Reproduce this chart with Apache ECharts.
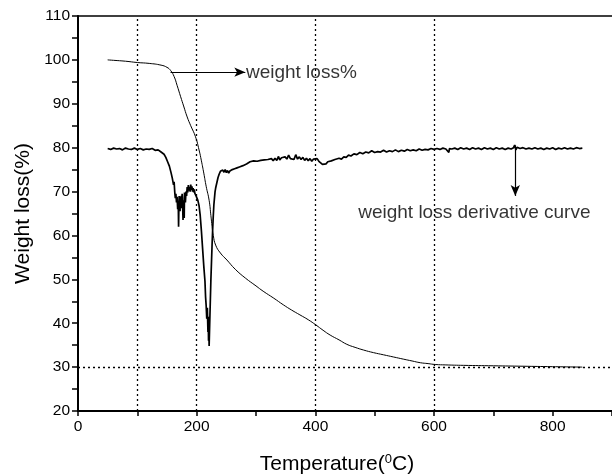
<!DOCTYPE html>
<html>
<head>
<meta charset="utf-8">
<script src="https://cdn.jsdelivr.net/npm/echarts@6/dist/echarts.min.js"></script>
<style>html,body{margin:0;padding:0;background:#fff}#c{width:612px;height:474px}</style>
</head>
<body>
<div id="c"></div>
<script>
// Weight loss % (TG) curve
var tgTemp = [50,60,80,100,120,140,150,156,162,167,173,178,184,190,198,204,208,212,216,221,224,226,228,232,240,251,265,282,300,312,330,346,360,374,388,401,413,425,440,453,467,481,498,515,532,549,563,577,590,602,620,650,700,750,800,850];
var tgVal  = [100.0,99.9,99.7,99.4,99.2,98.8,98.3,97.6,96.2,94.2,91.6,89.5,87.0,85.0,82.5,79.5,77.0,74.2,71.2,68.0,64.5,62.0,60.0,57.8,56.0,54.4,52.3,50.3,48.5,47.3,45.7,44.2,43.0,41.9,40.8,39.6,38.4,37.3,36.2,35.2,34.5,33.9,33.3,32.8,32.3,31.8,31.4,31.0,30.8,30.6,30.5,30.4,30.3,30.2,30.1,30.0];

// Weight loss derivative (DTG) curve
var dtgTemp = [50,55,60,65,70,75,80,85,90,95,100,105,110,115,120,125,130,135,140,145,148,151,154,157,159,161,162,163,164,165,166,167,168,169,169.5,170,170.5,171,172,172.5,173,174,175,175.5,176,177,177.5,178,179,179.5,180,181,182,183,184,185,186,187,188,189,190,191,192,193,194,195,196,197,198,199,200,202,204,206,208,210,212,214,215,216,217,218,219,219.5,220,220.5,221,222,223,224,225,226,227,228,229,230,231,232,234,236,238,240,242,244,246,248,250,252,254,256,258,260,262,264,266,268,270,272,275,278,281,284,287,290,293,296,299,302,305,308,311,314,317,320,323,326,329,332,335,338,340,343,346,349,352,355,358,361,364,367,370,373,376,379,382,385,388,391,394,397,400,403,406,409,412,415,418,421,424,427,430,433,436,440,444,448,452,456,460,465,470,475,480,485,490,495,500,505,510,515,520,525,530,535,540,545,550,555,560,565,570,575,580,585,590,595,600,605,610,615,620,625,626,630,635,640,645,650,655,660,665,670,675,680,685,690,695,700,705,710,715,720,725,730,734,736,738,740,745,750,755,760,765,770,775,780,785,790,795,800,805,810,815,820,825,830,835,840,845,850];
var dtgVal  = [79.8,79.6,79.9,79.7,79.8,79.5,79.9,79.7,79.6,79.9,79.6,79.8,79.5,79.7,79.6,79.8,79.4,79.5,79.0,78.5,77.8,76.8,75.8,74.2,73.0,71.5,72.2,70.0,68.5,69.5,67.5,68.8,66.0,67.2,62.0,66.5,69.0,68.0,65.5,68.8,67.8,69.0,66.2,69.5,68.5,63.5,67.0,68.0,64.0,69.8,69.2,67.5,70.0,69.0,71.0,69.8,71.5,70.2,71.0,70.0,71.6,70.4,71.2,70.0,70.8,69.8,70.5,69.6,70.0,69.0,68.8,68.0,66.8,64.5,61.0,57.0,53.0,49.5,46.0,44.0,41.0,43.5,38.0,41.5,36.0,39.5,34.8,40.0,45.0,50.0,54.0,58.0,61.5,64.5,67.0,68.5,70.0,70.8,72.0,73.2,74.0,74.6,74.2,74.9,74.4,75.0,74.3,74.8,74.2,74.7,74.4,75.0,74.6,75.2,74.8,75.4,75.0,75.6,75.3,75.9,75.6,76.3,76.0,76.8,76.4,77.0,76.6,76.9,76.5,77.1,76.7,77.2,76.8,77.3,76.9,77.5,77.0,77.6,77.1,78.0,77.2,77.7,77.3,77.9,77.4,78.3,77.5,77.8,77.3,78.4,77.4,77.9,77.3,77.8,77.1,77.6,77.0,77.5,76.9,77.4,77.0,77.5,76.9,76.6,76.2,76.6,76.3,76.8,76.5,77.0,76.8,77.3,77.1,77.6,77.4,77.9,77.8,78.3,78.1,78.6,78.4,78.9,78.6,79.0,78.8,79.3,78.9,79.1,79.0,79.4,79.0,79.3,79.1,79.5,79.1,79.4,79.2,79.6,79.3,79.5,79.3,79.7,79.4,79.6,79.5,79.8,79.6,79.8,79.6,79.9,79.7,78.9,79.8,79.7,79.9,79.6,80.0,79.7,79.9,79.6,80.0,79.7,79.9,79.6,80.0,79.7,79.9,79.6,80.0,79.7,79.9,79.6,79.9,79.7,80.0,80.6,79.5,80.1,79.8,80.0,79.7,79.9,79.7,80.0,79.7,79.9,79.6,79.9,79.7,80.0,79.6,79.9,79.7,80.0,79.7,79.9,79.7,80.0,79.8,79.9];

// Reference lines
var refX = [100,200,400,600];
var refY = [30];

// Annotations
var arrow1 = [[156,97.2],[282,97.2]];
var arrow2 = [[737,80.5],[737,69.0]];
var text1 = {x:283, y:97.0, text:'weight loss%'};
var text2 = {x:668, y:65.1, text:'weight loss derivative curve'};

function pairs(xs, ys){ var o=[]; for(var i=0;i<xs.length;i++) o.push([xs[i],ys[i]]); return o; }

var FONT = 'Liberation Sans, Arial, sans-serif';
var chart = echarts.init(document.getElementById('c'), null, {renderer:'canvas'});
var markData = refX.map(function(v){return {xAxis:v};}).concat(refY.map(function(v){return {yAxis:v};}));

chart.setOption({
  animation:false,
  backgroundColor:'#fff',
  grid:{left:78, top:16, right:0, bottom:63, containLabel:false, outerBoundsMode:'none'},
  xAxis:[{
    type:'value', min:0, max:900, interval:100,
    name:'{a|Temperature(}{s|0}{a|C)}', nameLocation:'middle', nameGap:42,
    nameTextStyle:{padding:[0,16,0,0],rich:{a:{fontSize:21,fontFamily:FONT,color:'#000'}, s:{fontSize:13,fontFamily:FONT,color:'#000',verticalAlign:'top',padding:[0,0,10,0]}}},
    axisLine:{show:true,onZero:false,lineStyle:{color:'#000',width:2}},
    axisTick:{show:true,inside:false,length:5,lineStyle:{color:'#000',width:1.5}},
    axisLabel:{fontSize:15.5,fontFamily:FONT,color:'#000',margin:8,formatter:function(v){return (v%200===0 && v<900)?String(v):'';}},
    splitLine:{show:false}
  },{
    type:'value', min:0, max:900, position:'top',
    axisLine:{show:true,lineStyle:{color:'#000',width:1.5}},
    axisTick:{show:false}, axisLabel:{show:false}, splitLine:{show:false}
  }],
  yAxis:{
    type:'value', min:20, max:110, interval:5,
    name:'Weight loss(%)', nameLocation:'middle', nameGap:44,
    nameTextStyle:{fontSize:21,fontFamily:FONT,color:'#000'},
    axisLine:{show:true,lineStyle:{color:'#000',width:2}},
    axisTick:{show:true,inside:false,length:6,lineStyle:{color:'#000',width:1.5}},
    axisLabel:{fontSize:15.5,fontFamily:FONT,color:'#000',margin:8,formatter:function(v){return v%10===0?String(v):'';}},
    splitLine:{show:false}
  },
  series:[
    {
      name:'TG', type:'line', data:pairs(tgTemp,tgVal), showSymbol:false, smooth:true,
      lineStyle:{color:'#000',width:1}, z:3,
      markLine:{silent:true, symbol:['none','none'], label:{show:false},
        lineStyle:{color:'#000',type:[2,3],width:1.3}, data:markData}
    },
    {
      name:'DTG', type:'line', data:pairs(dtgTemp,dtgVal), showSymbol:false,
      lineStyle:{color:'#000',width:1.7}, z:4,
      markLine:{silent:true, symbol:['none','arrow'], symbolSize:[7,11], label:{show:false},
        lineStyle:{color:'#000',type:'solid',width:1.2},
        data:[[{coord:arrow1[0]},{coord:arrow1[1]}],[{coord:arrow2[0]},{coord:arrow2[1]}]]}
    },
    {
      name:'labels', type:'scatter', symbolSize:0, silent:true,
      data:[
        {value:[text1.x,text1.y], label:{show:true,position:'right',distance:0,formatter:text1.text}},
        {value:[text2.x,text2.y], label:{show:true,position:'inside',formatter:text2.text}}
      ],
      label:{fontSize:19,fontFamily:FONT,color:'#000'}
    }
  ]
});
</script>
</body>
</html>
